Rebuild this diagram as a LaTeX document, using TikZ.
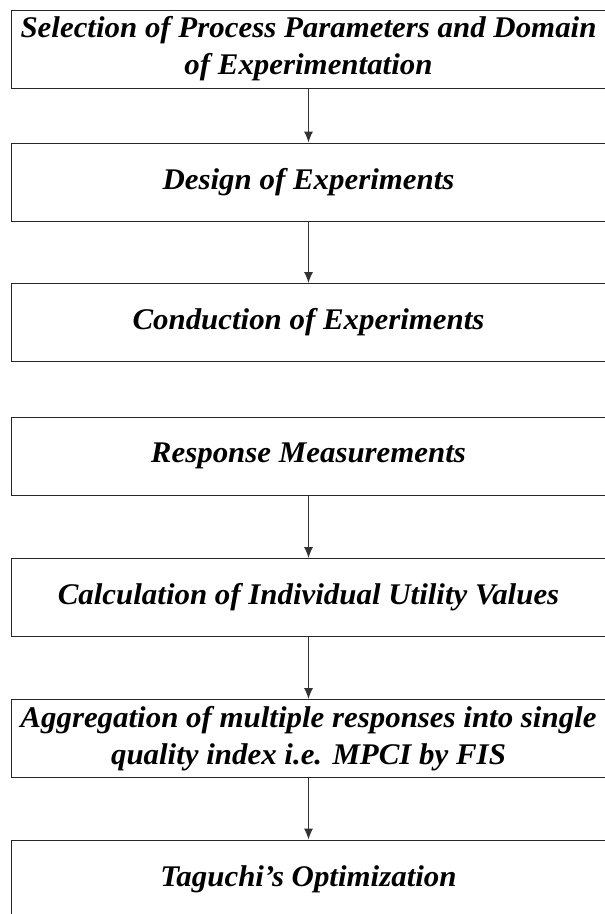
\documentclass[tikz,border=0pt]{standalone}
\usepackage{fontspec}
\setmainfont[FakeStretch=1.03]{Liberation Serif}
\usetikzlibrary{arrows.meta}

\begin{document}
\begin{tikzpicture}[x=1pt,y=-1pt,
    proc_box/.style={draw=black!85,line width=1pt,minimum width=595pt,minimum height=78pt,
        inner sep=0pt,align=center,font=\fontsize{30}{37}\selectfont\bfseries\itshape},
    flow/.style={draw=black!80,line width=1pt,-{Latex[length=11pt,width=9pt]}}]

    \useasboundingbox (0,0) rectangle (605,914);
    \node[proc_box] (1) at (308.5,49)    {Selection of Process Parameters and Domain\\of Experimentation};
    \node[proc_box] (2) at (308.5,182)   {Design of Experiments};
    \node[proc_box] (3) at (308.5,322.5) {Conduction of Experiments};
    \node[proc_box] (4) at (308.5,456)   {Response Measurements};
    \node[proc_box] (5) at (308.5,597.5) {Calculation of Individual Utility Values};
    \node[proc_box] (6) at (308.5,738.5) {Aggregation of multiple responses into single\\quality index i.e. MPCI by FIS};
    \node[proc_box] (7) at (308.5,879)   {Taguchi’s Optimization};
    \draw[flow] (1) -- (2);
    \draw[flow] (2) -- (3);
    \draw[flow] (4) -- (5);
    \draw[flow] (5) -- (6);
    \draw[flow] (6) -- (7);
\end{tikzpicture}
\end{document}
